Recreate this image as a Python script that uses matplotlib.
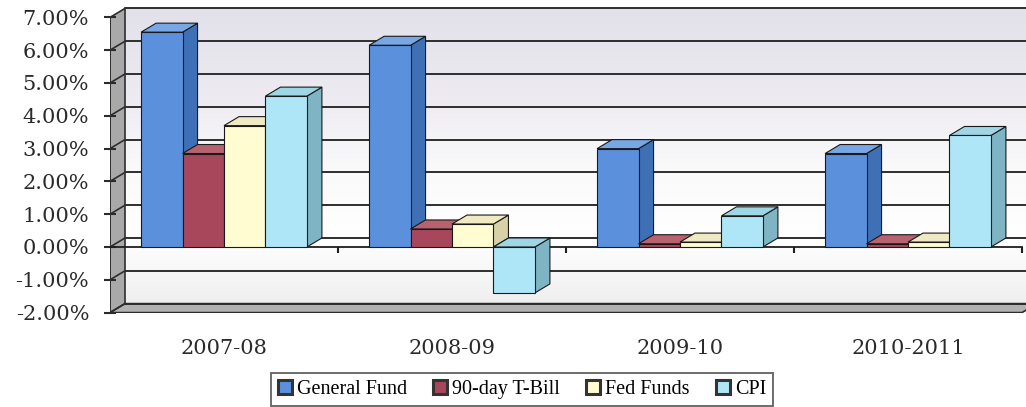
import matplotlib
matplotlib.use("Agg")
import matplotlib.pyplot as plt
from matplotlib.patches import Polygon, Rectangle
from matplotlib.colors import LinearSegmentedColormap
import numpy as np

# ---- data -------------------------------------------------------------
categories = ["2007-08", "2008-09", "2009-10", "2010-2011"]
series_names = ["General Fund", "90-day T-Bill", "Fed Funds", "CPI"]
general_fund = [6.55, 6.15, 3.00, 2.85]
tbill_90day = [2.85, 0.55, 0.10, 0.10]
fed_funds = [3.70, 0.70, 0.15, 0.15]
cpi = [4.60, -1.40, 0.95, 3.40]
y_ticks = [-2, -1, 0, 1, 2, 3, 4, 5, 6, 7]

series_values = [general_fund, tbill_90day, fed_funds, cpi]

# face colours per series: (front, side, top)
face_colors = [
    ("#5a90dc", "#3f6fb5", "#78a7e6"),
    ("#a8475c", "#7e3040", "#b9626f"),
    ("#fffcd2", "#d6d1a6", "#efe9c4"),
    ("#aee6f8", "#7fb4c4", "#9fd6e6"),
]

# ---- figure / axes geometry --------------------------------------------
W, H = 1026, 407
fig = plt.figure(figsize=(W / 100, H / 100), dpi=100)
fig.patch.set_facecolor("white")

px_left = 110          # x = 0 (front left edge)
px_zero = 247          # y = 0 on the front plane
px_per_pct = 32.8
px_per_cat = 228
px_floor = px_zero + 2 * px_per_pct

ax = fig.add_axes([px_left / W, (H - px_floor) / H, (W - px_left) / W, px_floor / H])
xmax = (W - px_left) / px_per_cat
ax.set_xlim(0, xmax)
ax.set_ylim(-2, -2 + px_floor / px_per_pct)
for s in ax.spines.values():
    s.set_visible(False)
ax.set_facecolor("none")

# depth of the 3-D box, in data units
dx = 15 / px_per_cat
dy = 9 / px_per_pct
ymin, ytop = y_ticks[0], y_ticks[-1]
ncat = len(categories)

# back wall with a soft vertical gradient
wall_cmap = LinearSegmentedColormap.from_list(
    "wall",
    [(0.0, "#efefef"), (0.22, "#ffffff"), (0.45, "#fafafb"),
     (0.68, "#eeecf2"), (1.0, "#e2e0e9")])
grad = np.linspace(0, 1, 256).reshape(-1, 1)
ax.imshow(grad, cmap=wall_cmap, origin="lower", aspect="auto",
          extent=[dx, xmax, ymin + dy, ytop + dy], zorder=0)

# left side wall
ax.add_patch(Polygon([(0, ymin), (dx, ymin + dy), (dx, ytop + dy), (0, ytop)],
                     closed=True, fc="#a9a9a9", ec="none", zorder=1))

# floor strip
ax.add_patch(Polygon([(0, ymin), (ncat, ymin), (ncat + dx, ymin + dy), (dx, ymin + dy)],
                     closed=True, fc="#b2b2b2", ec="#2b2b2b", lw=1.2, zorder=2))

# gridlines on back and side walls
grid_c = "#2e2e2e"
for v in y_ticks:
    ax.plot([dx, xmax], [v + dy, v + dy], color=grid_c, lw=1.4, zorder=3,
            solid_capstyle="butt")
    ax.plot([0, dx], [v, v + dy], color=grid_c, lw=1.2, zorder=3)
ax.plot([dx, dx], [ymin + dy, ytop + dy], color=grid_c, lw=1.2, zorder=3)
ax.plot([0, 0], [ymin, ytop], color=grid_c, lw=1.4, zorder=3)

# front zero axis with category ticks
ax.plot([0, ncat], [0, 0], color="#1e1e1e", lw=1.3, zorder=5)
ax.vlines(np.arange(1, ncat + 1), -0.18, 0, color="#1e1e1e", lw=1.5, zorder=5)

# ---- bars ---------------------------------------------------------------
nser = len(series_values)
gap = 1.5
w = 1 / (nser + gap)
x0 = np.arange(ncat) + gap * w / 2

for i, (vals, (fc_front, fc_side, fc_top)) in enumerate(zip(series_values, face_colors)):
    xs = x0 + i * w
    base_z = 10 + 3 * i
    for x, v in zip(xs, vals):
        lo, hi = min(v, 0), max(v, 0)
        ax.add_patch(Polygon([(x + w, lo), (x + w + dx, lo + dy),
                              (x + w + dx, hi + dy), (x + w, hi)],
                             closed=True, fc=fc_side, ec="#1a1a1a", lw=0.8,
                             zorder=base_z))
        ax.add_patch(Polygon([(x, hi), (x + w, hi), (x + w + dx, hi + dy),
                              (x + dx, hi + dy)],
                             closed=True, fc=fc_top, ec="#1a1a1a", lw=0.8,
                             zorder=base_z + 1))
    ax.bar(xs, vals, width=w, align="edge", color=fc_front,
           edgecolor="#1a1a1a", linewidth=0.8, zorder=base_z + 2)

# ---- ticks and labels ----------------------------------------------------
ax.set_yticks(y_ticks)
ax.set_yticklabels([f"{v:.2f}%" for v in y_ticks], family="DejaVu Serif",
                   fontsize=15, color="#2a2a2a")
ax.tick_params(axis="y", direction="inout", length=9, width=1.5,
               color="#2b2b2b", pad=10.5)

ax.set_xticks(np.arange(ncat) + 0.5)
ax.set_xticklabels(categories, family="DejaVu Serif", fontsize=15,
                   color="#2a2a2a")
ax.tick_params(axis="x", length=0, pad=19)

# ---- legend -----------------------------------------------------------
handles = [Rectangle((0, 0), 1, 1, fc=c[0], ec="#333333", lw=2.2)
           for c in face_colors]
leg = fig.legend(handles, series_names, loc="lower center",
                 bbox_to_anchor=(522 / W, 1 / H), ncol=4, frameon=True,
                 fancybox=False, edgecolor="#3a3a3a",
                 prop={"family": "Liberation Serif", "size": 14.5},
                 handlelength=0.7, handleheight=0.7, handletextpad=0.25,
                 columnspacing=1.3, borderpad=0.35, borderaxespad=0)
leg.get_frame().set_linewidth(1.3)

fig.savefig("out.png", dpi=100, facecolor="white")
